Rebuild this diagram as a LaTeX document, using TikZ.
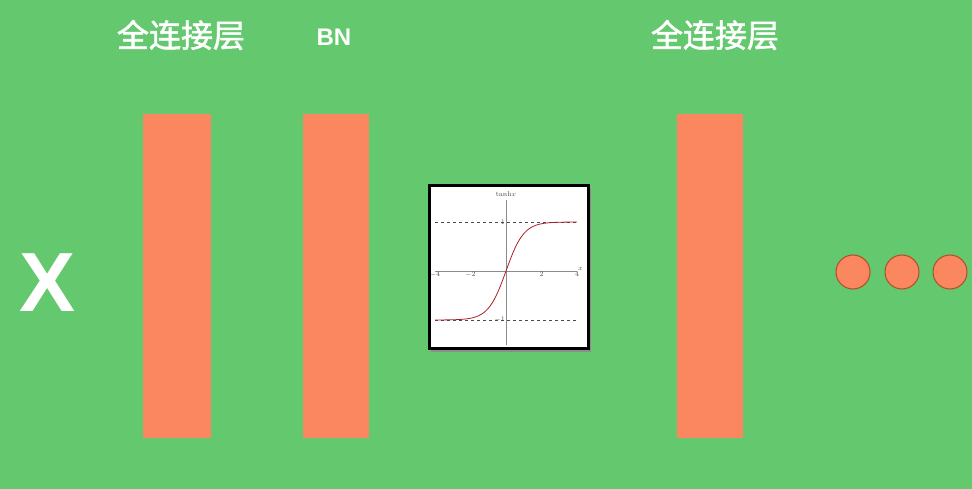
\documentclass[tikz,border=0pt]{standalone}
\usepackage{fontspec}
\newfontfamily\cjk[FakeBold=1.6]{Noto Sans CJK SC}
\newfontfamily\labelfont{Liberation Sans}
\usepackage{tikz}

\definecolor{bggreen}{RGB}{100,201,110}
\definecolor{layerorange}{RGB}{250,135,95}
\definecolor{dotedge}{RGB}{180,80,45}
\definecolor{curvered}{RGB}{175,30,40}

\tikzset{
  layer/.style={fill=layerorange, draw=none},
  toplabel/.style={text=white, font=\cjk\fontsize{32}{32}\selectfont},
  unit/.style={circle, fill=layerorange, draw=dotedge, line width=1.1pt, minimum size=34pt, inner sep=0pt},
  ticklabel/.style={font=\fontsize{7}{7}\selectfont, text=black!70, inner sep=1pt}
}

\begin{document}
\begin{tikzpicture}[x=1pt,y=-1pt]
    % Background
    \fill[bggreen] (0,0) rectangle (972,489);
    \useasboundingbox (0,0) rectangle (972,489);

    % Input
    \node[text=white, font=\labelfont\bfseries\fontsize{84}{84}\selectfont] (input) at (48,283) {X};

    % Layers
    \fill[layer] (143,114) rectangle (211,438);
    \fill[layer] (303,114) rectangle (369,438);
    \fill[layer] (677,114) rectangle (743,438);

    % Labels
    \node[toplabel] (fc1) at (181,35) {全连接层};
    \node[text=white, font=\labelfont\bfseries\fontsize{24}{24}\selectfont] (bn) at (334,37) {BN};
    \node[toplabel] (fc2) at (715,35) {全连接层};

    % Activation box
    \fill[black!45] (431,188) rectangle (591,352);
    \draw[fill=white, line width=3pt] (429,186) rectangle (588,348);
    \begin{scope}[shift={(506,271)}, x=17.75pt, y=49pt]
      \draw[black!45, line width=0.4pt] (-4,0) -- (4,0);
      \draw[black!45, line width=0.4pt] (0,-1.5) -- (0,1.45);
      \draw[dashed, black!70, line width=0.5pt] (-4,1) -- (4,1);
      \draw[dashed, black!70, line width=0.5pt] (-4,-1) -- (4,-1);
      \draw[curvered, line width=0.8pt, domain=-4:4, samples=80] plot (\x, {tanh(\x)});
      \node[ticklabel] (title) at (0,1.56) {tanh$x$};
      \node[ticklabel, anchor=east] (yone) at (0,1) {1};
      \node[ticklabel, anchor=east] (ymone) at (0,-1) {$-1$};
      \node[ticklabel, anchor=west] (xname) at (4,0.05) {$x$};
      \foreach \t in {-4,-2,2,4}
        \node[ticklabel, anchor=north] (xt\t) at (\t,0) {$\t$};
    \end{scope}

    % Following units
    \node[unit] (dot1) at (853,272) {};
    \node[unit] (dot2) at (902,272) {};
    \node[unit] (dot3) at (950,272) {};
\end{tikzpicture}
\end{document}
